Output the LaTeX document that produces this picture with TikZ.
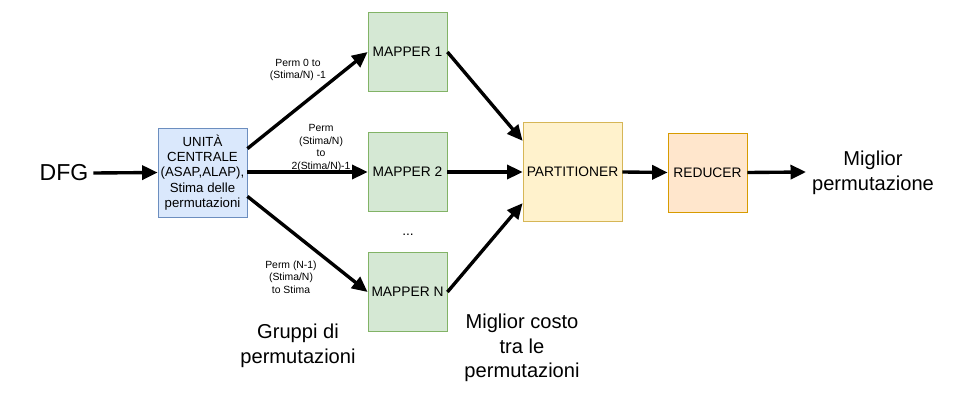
\documentclass[tikz,border=0pt]{standalone}
\usepackage{fontspec}
\setmainfont{Liberation Sans}
\usetikzlibrary{arrows.meta}
\definecolor{cublue}{HTML}{DAE8FC}
\definecolor{cublueb}{HTML}{6C8EBF}
\definecolor{mapgreen}{HTML}{D5E8D4}
\definecolor{mapgreenb}{HTML}{82B366}
\definecolor{partyel}{HTML}{FFF2CC}
\definecolor{partyelb}{HTML}{D6B656}
\definecolor{redor}{HTML}{FFE6CC}
\definecolor{redorb}{HTML}{D79B00}
\tikzset{
  flow/.style={line width=2.4pt, -{Triangle[length=11pt,width=10pt]}},
  block/.style={draw, line width=0.6pt, minimum width=79\px, minimum height=79\px,
    inner sep=0pt, align=center, font=\fontsize{9.8}{11.2}\selectfont},
  small/.style={align=center, font=\fontsize{7.4}{8.8}\selectfont},
  big/.style={align=center, font=\fontsize{14.3}{17.5}\selectfont}
}
\newlength{\px}
\setlength{\px}{0.025cm}
\begin{document}
\begin{tikzpicture}[x=0.025cm, y=-0.025cm]
  \useasboundingbox (0,0) rectangle (953,400);
  % blocchi
  \node[block, fill=cublue, draw=cublueb, minimum width=89\px, minimum height=89\px,
    font=\fontsize{9.4}{10.8}\selectfont] (cu) at (202.5,172.5)
    {UNITÀ\\CENTRALE\\(ASAP,ALAP),\\Stima delle\\permutazioni};
  \node[block, fill=mapgreen, draw=mapgreenb] (m1) at (407.5,52) {MAPPER 1};
  \node[block, fill=mapgreen, draw=mapgreenb] (m2) at (407.5,172) {MAPPER 2};
  \node[block, fill=mapgreen, draw=mapgreenb] (mn) at (407.5,292) {MAPPER N};
  \node[block, fill=partyel, draw=partyelb, minimum width=99\px, minimum height=99\px] (part) at (572.5,172) {PARTITIONER};
  \node[block, fill=redor, draw=redorb] (red) at (707.5,172.5) {REDUCER};
  % testi
  \node[big, font=\fontsize{16.4}{19}\selectfont] (dfg) at (64,173) {DFG};
  \node[big] (out) at (873,173) {Miglior\\permutazione};
  \coordinate (outend) at (806,172);
  \node[font=\fontsize{9.8}{11}\selectfont] (dots) at (408,235) {...};
  \node[big] (gruppi) at (298,346) {Gruppi di\\permutazioni};
  \node[big] (costo) at (522,348) {Miglior costo\\tra le\\permutazioni};
  \node[small] (l1) at (298,70) {Perm 0 to\\(Stima/N) -1};
  \node[small] (l2) at (321,148) {Perm\\(Stima/N)\\to\\2(Stima/N)-1};
  \node[small] (l3) at (291,277) {Perm (N-1)\\(Stima/N)\\to Stima};
  % frecce
  \draw[flow] (dfg.east) -- (cu.west);
  \draw[flow] (cu.28) -- (m1.west);
  \draw[flow] (cu.east |- m2.west) -- (m2.west);
  \draw[flow] (cu.-28) -- (mn.west);
  \draw[flow] (m1.east) -- (part.148);
  \draw[flow] (m2.east) -- (part.west);
  \draw[flow] (mn.east) -- (part.212);
  \draw[flow] (part.east) -- (red.west);
  \draw[flow] (red.east) -- (outend);
\end{tikzpicture}
\end{document}
